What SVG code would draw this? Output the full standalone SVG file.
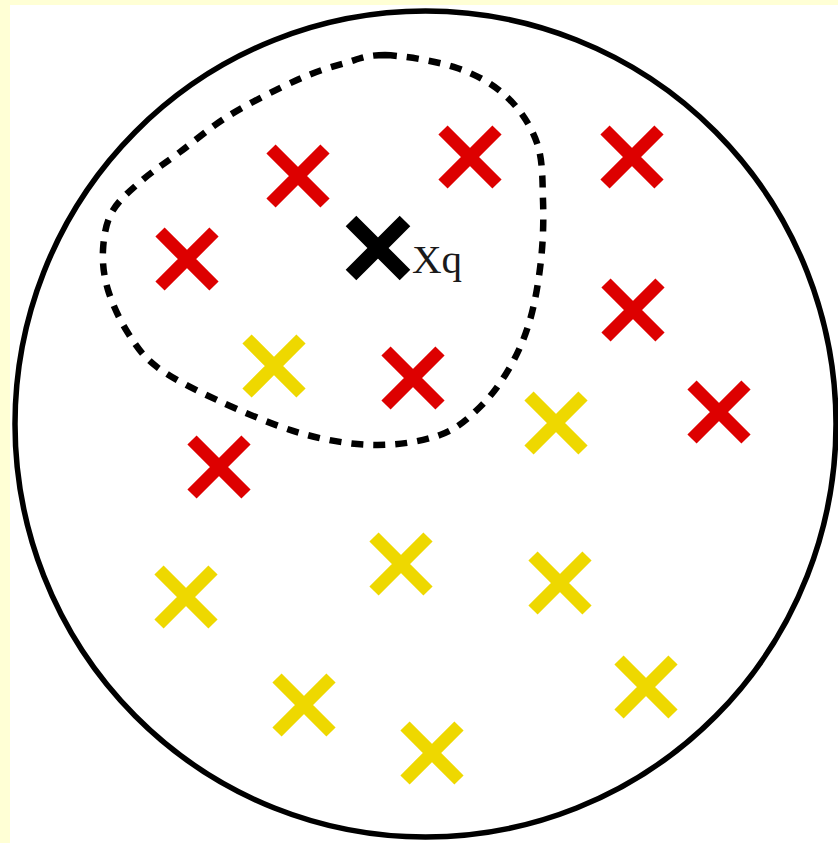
<svg xmlns="http://www.w3.org/2000/svg" xmlns:xlink="http://www.w3.org/1999/xlink" width="838" height="843" viewBox="0 0 838 843">
  <style>
    .red { stroke: #DD0000; stroke-width: 13; }
    .yel { stroke: #EED800; stroke-width: 13; }
    .blk { stroke: #000000; stroke-width: 15; }
    .label { font-family: "Liberation Serif", "Times New Roman", serif; font-size: 41px; fill: #1a1a1a; }
  </style>
  <defs>
    <path id="xmark" d="M-27,-27 L27,27 M-27,27 L27,-27" fill="none"/>
  </defs>
  <rect x="0" y="0" width="838" height="843" fill="#FFFFD5"/>
  <rect x="10" y="5" width="828" height="838" fill="#FFFFFF"/>
  <g id="boundary">
    <ellipse cx="425.5" cy="424" rx="410.5" ry="413" fill="none" stroke="#000" stroke-width="5.5"/>
  </g>
  <g id="neighborhood">
    <path fill="none" stroke="#000" stroke-width="6.5" stroke-dasharray="12 10" d="M385,55 C403.7,55.8 436.7,61 457,68 C477.3,75 493.7,84.5 507,97 C520.3,109.5 531,125.8 537,143 C543,160.2 542.3,180.5 543,200 C543.7,219.5 543.2,240 541,260 C538.8,280 535.2,302.2 530,320 C524.8,337.8 518.3,352.5 510,367 C501.7,381.5 491.7,395.7 480,407 C468.3,418.3 457.5,428.7 440,435 C422.5,441.3 398.3,445.3 375,445 C351.7,444.7 326.3,440.5 300,433 C273.7,425.5 240.8,411 217,400 C193.2,389 171.8,378.2 157,367 C142.2,355.8 136.2,345.8 128,333 C119.8,320.2 112.2,303.8 108,290 C103.8,276.2 102.3,263 103,250 C103.7,237 105.8,223.3 112,212 C118.2,200.7 128.7,192 140,182 C151.3,172 165,163.2 180,152 C195,140.8 210.5,127 230,115 C249.5,103 277.8,88.7 297,80 C316.2,71.3 330.3,67.2 345,63 C359.7,58.8 366.3,55 385,55 Z"/>
  </g>
  <g id="red-points">
    <g id="r1" class="red"><use xlink:href="#xmark" href="#xmark" x="298" y="176"/></g>
    <g id="r2" class="red"><use xlink:href="#xmark" href="#xmark" x="470" y="157"/></g>
    <g id="r3" class="red"><use xlink:href="#xmark" href="#xmark" x="632" y="157"/></g>
    <g id="r4" class="red"><use xlink:href="#xmark" href="#xmark" x="187" y="259"/></g>
    <g id="r5" class="red"><use xlink:href="#xmark" href="#xmark" x="633" y="310"/></g>
    <g id="r6" class="red"><use xlink:href="#xmark" href="#xmark" x="413" y="378"/></g>
    <g id="r7" class="red"><use xlink:href="#xmark" href="#xmark" x="719" y="412"/></g>
    <g id="r8" class="red"><use xlink:href="#xmark" href="#xmark" x="219" y="467"/></g>
  </g>
  <g id="yellow-points">
    <g id="y1" class="yel"><use xlink:href="#xmark" href="#xmark" x="274" y="366"/></g>
    <g id="y2" class="yel"><use xlink:href="#xmark" href="#xmark" x="556" y="423"/></g>
    <g id="y3" class="yel"><use xlink:href="#xmark" href="#xmark" x="401" y="564"/></g>
    <g id="y4" class="yel"><use xlink:href="#xmark" href="#xmark" x="186" y="597"/></g>
    <g id="y5" class="yel"><use xlink:href="#xmark" href="#xmark" x="560" y="583"/></g>
    <g id="y6" class="yel"><use xlink:href="#xmark" href="#xmark" x="646" y="687"/></g>
    <g id="y7" class="yel"><use xlink:href="#xmark" href="#xmark" x="304" y="705"/></g>
    <g id="y8" class="yel"><use xlink:href="#xmark" href="#xmark" x="432" y="753"/></g>
  </g>
  <g id="query">
    <g class="blk"><use xlink:href="#xmark" href="#xmark" x="378" y="248"/></g>
    <text class="label" x="412" y="273">Xq</text>
  </g>
</svg>
